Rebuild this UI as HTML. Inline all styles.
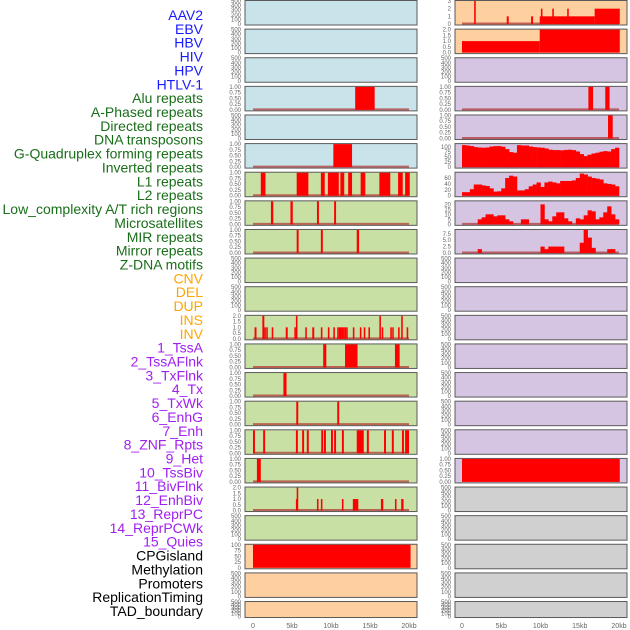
<!DOCTYPE html>
<html><head><meta charset="utf-8"><style>
body{margin:0;background:#fff;width:630px;height:630px;overflow:hidden}
svg{display:block;font-family:"Liberation Sans",sans-serif}
</style></head><body>
<svg id="c" width="630" height="630"></svg>
<script>
const labels=["AAV2","EBV","HBV","HIV","HPV","HTLV-1","Alu repeats","A-Phased repeats","Directed repeats","DNA transposons","G-Quadruplex forming repeats","Inverted repeats","L1 repeats","L2 repeats","Low_complexity A/T rich regions","Microsatellites","MIR repeats","Mirror repeats","Z-DNA motifs","CNV","DEL","DUP","INS","INV","1_TssA","2_TssAFlnk","3_TxFlnk","4_Tx","5_TxWk","6_EnhG","7_Enh","8_ZNF_Rpts","9_Het","10_TssBiv","11_BivFlnk","12_EnhBiv","13_ReprPC","14_ReprPCWk","15_Quies","CPGisland","Methylation","Promoters","ReplicationTiming","TAD_boundary"];
const labelGroups=[6,13,5,15,5];
const groupColors=["#1a1aff","#1a6e1a","#ffa500","#a020f0","#000"];
const xTicks=[0,5,10,15,20];
const xTickLabels=["0","5kb","10kb","15kb","20kb"];
// left column intervals [startKb,endKb,value]
const L3=[[13.1,15.6,1]];
const L5=[[10.3,12.7,1]];
const L6=[[1.0,1.6,1],[5.6,7.1,1],[8.7,9.2,1],[9.6,11.0,1],[11.2,11.7,1],[12.2,12.7,1],[13.8,14.4,1],[16.2,17.6,1],[18.6,19.2,1],[19.5,20.1,1]];
const L7=[[2.3,2.6,1],[4.8,5.1,1],[8.2,8.45,1],[10.4,10.65,1]];
const L8=[[5.6,5.85,1],[8.7,8.95,1],[13.3,13.6,1]];
const L11=[[0.2,0.45,1],[1.2,1.45,2],[1.45,1.65,1],[1.7,1.9,1],[2.4,2.6,1],[4.2,4.45,1],[5.3,5.5,1],[5.5,5.7,2],[6.7,6.9,1],[7.6,7.85,1],[8.7,8.9,1],[9.6,9.8,1],[10.3,10.5,1],[10.8,11.0,1],[11.0,11.15,1],[11.15,11.3,1],[11.35,11.5,1],[11.55,11.7,1],[11.75,11.9,1],[11.95,12.1,1],[12.8,13.0,1],[13.7,13.9,1],[14.2,14.4,1],[14.8,15.0,1],[16.2,16.4,2],[16.5,16.7,1],[17.6,17.8,1],[17.85,18.0,1],[18.6,18.8,1],[19.0,19.2,2],[19.7,19.9,1]];
const L12=[[9.0,9.4,1],[11.8,13.4,1],[18.2,18.8,1]];
const L13=[[3.9,4.3,1]];
const L15=[[0.0,0.25,1],[1.3,1.55,1],[5.5,5.75,1],[6.3,6.55,1],[6.9,7.15,1],[8.75,9.0,1],[9.1,9.35,1],[10.0,10.25,1],[10.4,10.65,1],[11.4,11.65,1],[13.3,14.2,1],[14.6,14.85,1],[16.8,17.05,1],[17.8,18.05,1],[19.1,19.35,1],[19.5,20.0,1]];
const L16=[[0.5,1.0,1]];
const L17=[[5.6,5.8,2],[5.5,5.6,1],[8.2,8.4,1],[8.7,8.9,1],[11.4,11.6,1],[12.8,13.5,1],[16.4,16.7,1],[18.2,18.4,1],[19.0,19.3,1]];
const L19=[[0,20.2,100]];
// right column intervals
const R0=[[1.55,1.75,3],[5.7,5.95,1],[8.8,9.05,1],[9.9,16.9,1],[10.05,10.25,2],[11.5,11.7,2],[13.4,13.6,2],[16.9,20.1,2]];
const R1=[[0,9.9,1],[9.9,20.1,2]];
const R3=[[16.1,16.7,1],[18.25,18.8,1]];
const R4=[[18.6,19.2,1]];
const R16=[[0,20.1,1]];
// right column binned series (0.5kb bins)
const gquad=[110,108,105,100,98,97,98,103,105,105,102,90,75,72,110,108,108,103,100,98,97,93,87,85,85,84,86,87,85,78,65,55,62,68,72,77,80,78,90,97];
const l1=[12,12,22,38,38,35,33,25,14,15,25,60,68,65,18,18,22,32,38,45,30,45,48,45,42,50,50,50,52,60,75,72,65,60,58,55,42,40,38,32];
const lowc=[0,0,0,0,5,7,10,10,8,9,9,5,3,0,0,5,5,0,0,0,20,5,3,8,12,12,6,3,0,6,5,9,14,13,5,7,12,18,10,5];
const micro=[0,0,0,0,1.5,0,0,0,0,0,0,0,0,0,0,0,0,0,0,0,2.5,1.5,2.5,2.5,2.5,2.5,0,0,0,0,4,9,6,2,0,0,0,1.5,1.5,0];

const emptyT=[0,100,200,300,400,500];
const t01=[0,0.25,0.5,0.75,1];
const B="#c9e3ea",G="#c8e0a4",O="#fecf9f",P="#d5c5e2",Y="#d0d0d0";
const leftCol=[
{bg:B},{bg:B},{bg:B},{bg:B,iv:L3,max:1,t:t01},{bg:B},{bg:B,iv:L5,max:1,t:t01},
{bg:G,iv:L6,max:1,t:t01},{bg:G,iv:L7,max:1,t:t01},{bg:G,iv:L8,max:1,t:t01},{bg:G},{bg:G},
{bg:G,iv:L11,max:2,t:[0,0.5,1,1.5,2],d:1},{bg:G,iv:L12,max:1,t:t01},{bg:G,iv:L13,max:1,t:t01},{bg:G,iv:L8.map?[[5.55,5.8,1],[10.8,11.05,1]]:[],max:1,t:t01},
{bg:G,iv:L15,max:1,t:t01},{bg:G,iv:L16,max:1,t:t01},{bg:G,iv:L17,max:2,t:[0,0.5,1,1.5,2],d:1},{bg:G},
{bg:O,iv:L19,max:100,t:[0,25,50,75,100],d:0,noline:1},{bg:O},{bg:O}];
const rightCol=[
{bg:O,iv:R0,max:3,t:[0,1,2,3],d:0},{bg:O,iv:R1,max:2,t:[0,0.5,1,1.5,2],d:1,noline:1},{bg:P},
{bg:P,iv:R3,max:1,t:t01},{bg:P,iv:R4,max:1,t:t01},
{bg:P,bins:gquad,max:115,t:[0,25,50,75,100],d:0},{bg:P,bins:l1,max:78,t:[0,20,40,60],d:0},
{bg:P,bins:lowc,max:23,t:[0,5,10,15,20],d:0},{bg:P,bins:micro,max:9,t:[0,2.5,5,7.5],d:1},
{bg:P},{bg:P},{bg:P},{bg:P},{bg:P},{bg:P},{bg:P},
{bg:P,iv:R16,max:1,t:t01,noline:1},{bg:Y},{bg:Y},{bg:Y},{bg:Y},{bg:Y}];

const svg=document.getElementById('c');
const NS="http://www.w3.org/2000/svg";
function mk(tag,attrs,parent){const e=document.createElementNS(NS,tag);for(const k in attrs)e.setAttribute(k,attrs[k]);(parent||svg).appendChild(e);return e;}

// labels
let li=0;
labelGroups.forEach((n,g)=>{for(let k=0;k<n;k++){const i=li++;
 const t=mk('text',{x:203,y:15+i*13.86+5,'text-anchor':'end','font-size':14,fill:groupColors[g]});
 t.textContent=labels[i];
 
 
}});

function drawCol(col,fx,x0,x1,name){
 const fw=172;
 const sx=kb=>x0+(x1-x0)*kb/20;
 col.forEach((p,i)=>{
  const top=0.5+i*28.62, h=(i===21)?16:24.5, bot=top+h-1;
  const g=mk('g',{});
  
  
  mk('rect',{x:fx,y:top,width:fw,height:h,fill:p.bg,stroke:'#5a5a5a','stroke-width':1},g);
  const max=p.max||500, ticks=p.t||emptyT;
  const sy=v=>bot-(bot-top-0.5)*v/max;
  ticks.forEach(v=>{const t=mk('text',{x:fx-4,y:sy(v)+2,'text-anchor':'end','font-size':6,fill:'#666'},g);
   t.textContent=(p.d===undefined?(p.t?v.toFixed(2):String(v)):v.toFixed(p.d));
   });
  if(p.iv){
   if(!p.noline){const ln=mk('line',{x1:sx(0),x2:sx(20),y1:bot-0.5,y2:bot-0.5,stroke:'#b03030','stroke-width':2,opacity:0.7},g);
    }
   p.iv.forEach(r=>{const b=mk('rect',{x:sx(r[0]),y:sy(r[2]),width:Math.max(1.5,sx(r[1])-sx(r[0])),height:bot-sy(r[2]),fill:'#ff0000'},g);
    });
  }
  if(p.bins){
   const ln=mk('line',{x1:sx(0),x2:sx(20),y1:bot-0.5,y2:bot-0.5,stroke:'#b03030','stroke-width':2,opacity:0.7},g);
   
   const w=20/p.bins.length;
   p.bins.forEach((v,k)=>{if(v<=0)return;const b=mk('rect',{x:sx(k*w),y:sy(v),width:sx((k+1)*w)-sx(k*w)+0.3,height:bot-sy(v),fill:'#ff0000'},g);
    });
  }
 });
 xTicks.forEach((v,k)=>{const t=mk('text',{x:sx(v),y:628,'text-anchor':'middle','font-size':7,fill:'#666'});
  t.textContent=xTickLabels[k];
  });
}
drawCol(leftCol,245,253,409,'left');
drawCol(rightCol,455,462,619,'right');
</script>
</body></html>
